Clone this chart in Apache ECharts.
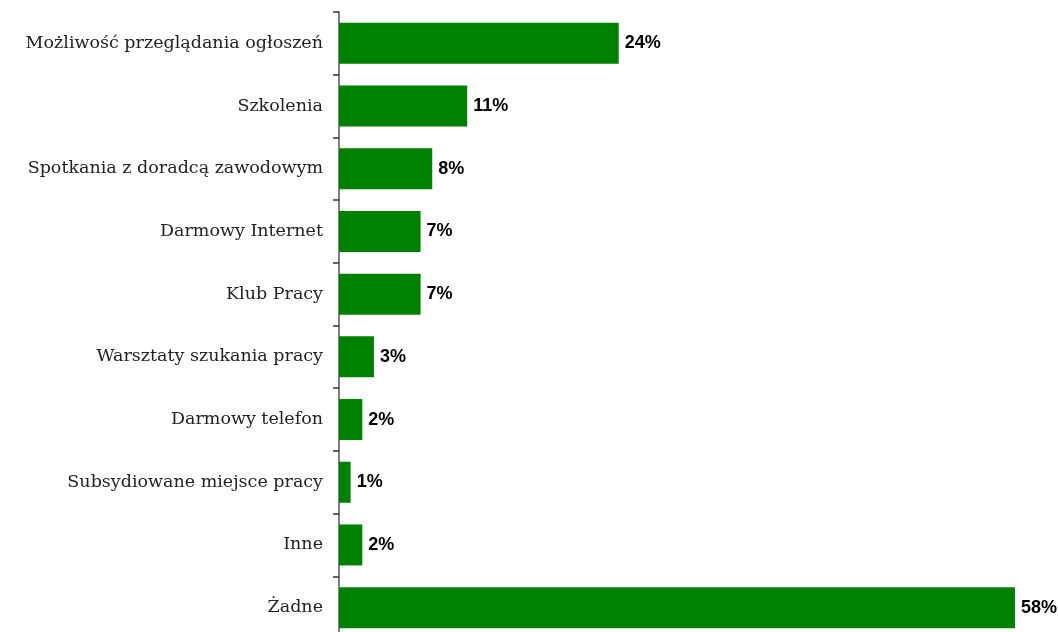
<!DOCTYPE html>
<html>
<head>
<meta charset="utf-8">
<script src="https://cdn.jsdelivr.net/npm/echarts@6/dist/echarts.min.js"></script>
<style>
  html, body { margin: 0; padding: 0; background: #ffffff; overflow: hidden; }
  /* the last band runs slightly past the bottom edge of the window */
  #chart { width: 1058px; height: 640px; }
</style>
</head>
<body>
<div id="chart"></div>
<script>
// Survey answers, listed top to bottom
const categories = [
  'Możliwość przeglądania ogłoszeń',
  'Szkolenia',
  'Spotkania z doradcą zawodowym',
  'Darmowy Internet',
  'Klub Pracy',
  'Warsztaty szukania pracy',
  'Darmowy telefon',
  'Subsydiowane miejsce pracy',
  'Inne',
  'Żadne'
];
// Share of respondents, percent
const shares = [24, 11, 8, 7, 7, 3, 2, 1, 2, 58];

const chart = echarts.init(document.getElementById('chart'), null, { renderer: 'canvas' });

chart.setOption({
  animation: false,
  backgroundColor: '#ffffff',
  grid: { left: 339, top: 12, width: 699.3, height: 627, containLabel: false },
  xAxis: {
    type: 'value',
    min: 0,
    max: 60,
    show: false
  },
  yAxis: {
    type: 'category',
    inverse: true,
    data: categories,
    axisLine: { show: true, lineStyle: { color: '#808080', width: 2 } },
    axisTick: { show: true, length: 6, lineStyle: { color: '#333333', width: 1.5 } },
    axisLabel: {
      margin: 16,
      color: '#222222',
      fontFamily: 'DejaVu Serif',
      fontSize: 17.5
    },
    splitLine: { show: false }
  },
  series: [{
    type: 'bar',
    data: shares,
    barCategoryGap: '34.6%',
    itemStyle: { color: '#008000' },
    label: {
      show: true,
      position: 'right',
      distance: 6,
      formatter: p => p.value + '%',
      color: '#000000',
      fontFamily: 'Liberation Sans',
      fontWeight: 'bold',
      fontSize: 18
    }
  }]
});
</script>
</body>
</html>
